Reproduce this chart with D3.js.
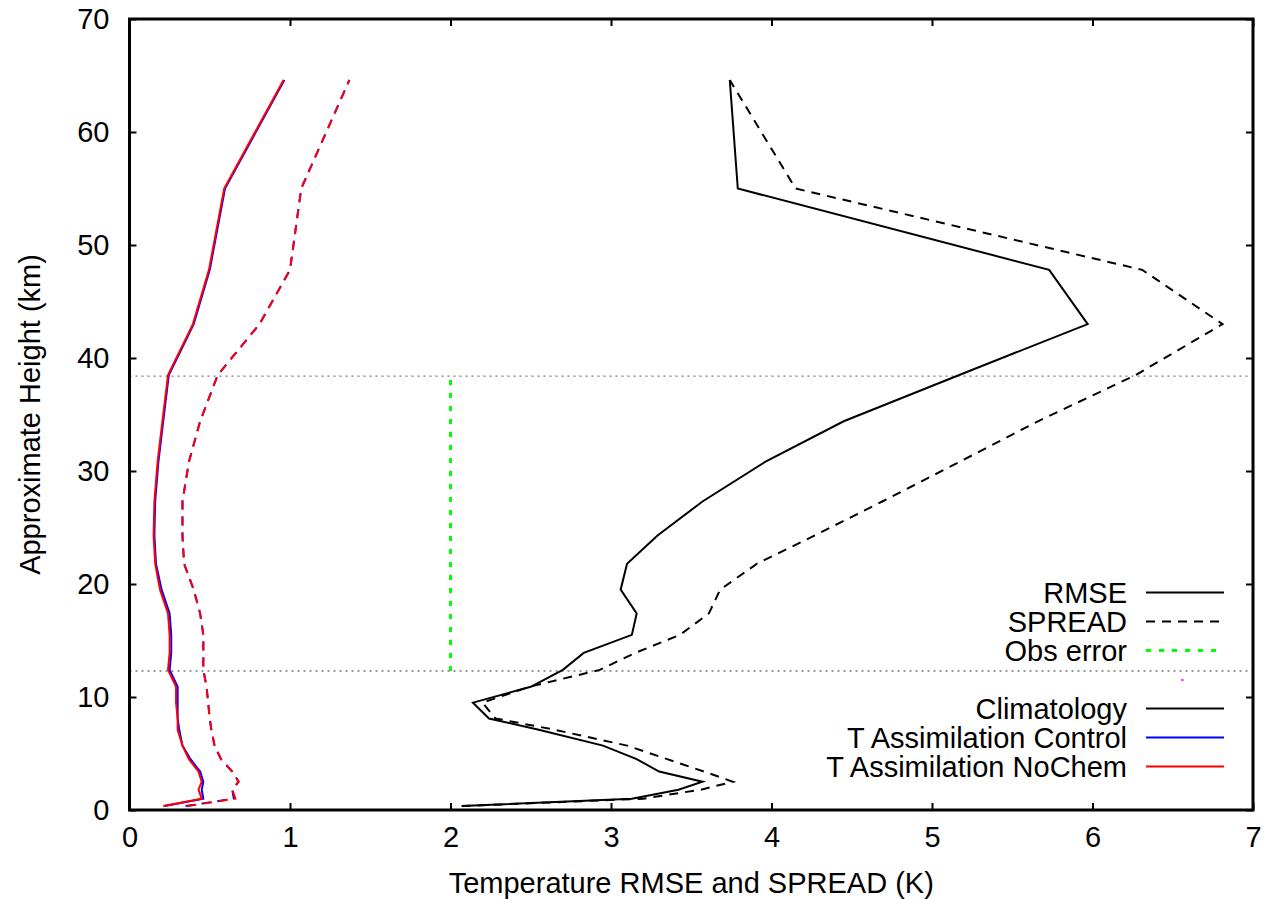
<!DOCTYPE html>
<html>
<head>
<meta charset="utf-8">
<script src="https://cdn.jsdelivr.net/npm/d3@7"></script>
<style>
  body { margin: 0; background: #fff; }
  text { font-family: "Liberation Sans", Arial, sans-serif; fill: #000; }
</style>
</head>
<body>
<div id="chart"></div>
<script>
// Heights (km) shared by all profiles
var heights = [0.35, 1.0, 1.8, 2.5, 3.4, 4.5, 5.7, 7.1, 8.1, 9.5, 10.9, 12.4, 13.9, 15.5, 17.4, 19.5, 21.8, 24.3, 27.3, 30.8, 34.4, 38.5, 43.0, 47.8, 55.0, 64.6];

// Climatology
var climRmse   = [2.07, 3.13, 3.42, 3.57, 3.30, 3.16, 2.95, 2.55, 2.24, 2.14, 2.50, 2.70, 2.83, 3.13, 3.16, 3.06, 3.10, 3.29, 3.57, 3.96, 4.45, 5.17, 5.97, 5.73, 3.79, 3.74];
var climSpread = [2.07, 3.20, 3.56, 3.76, 3.58, 3.35, 3.10, 2.65, 2.28, 2.20, 2.49, 2.93, 3.15, 3.43, 3.61, 3.68, 3.91, 4.27, 4.69, 5.17, 5.66, 6.27, 6.81, 6.31, 4.15, 3.74];

// T Assimilation Control
var ctrlRmse   = [0.22, 0.46, 0.45, 0.46, 0.44, 0.38, 0.33, 0.31, 0.30, 0.30, 0.30, 0.25, 0.26, 0.26, 0.25, 0.20, 0.165, 0.155, 0.16, 0.18, 0.21, 0.245, 0.40, 0.50, 0.595, 0.965];
var ctrlSpread = [0.35, 0.65, 0.64, 0.68, 0.64, 0.57, 0.53, 0.51, 0.50, 0.49, 0.48, 0.46, 0.46, 0.46, 0.44, 0.40, 0.34, 0.33, 0.33, 0.37, 0.44, 0.55, 0.81, 1.00, 1.07, 1.37];

// T Assimilation NoChem
var noChemRmse   = [0.21, 0.45, 0.43, 0.45, 0.43, 0.37, 0.33, 0.30, 0.30, 0.29, 0.29, 0.24, 0.25, 0.25, 0.24, 0.19, 0.16, 0.15, 0.155, 0.175, 0.205, 0.24, 0.395, 0.495, 0.59, 0.96];
var noChemSpread = [0.36, 0.66, 0.64, 0.68, 0.64, 0.57, 0.53, 0.51, 0.50, 0.49, 0.48, 0.46, 0.46, 0.46, 0.44, 0.40, 0.34, 0.33, 0.33, 0.37, 0.44, 0.55, 0.81, 1.00, 1.07, 1.37];

// Observation error and region bounds
var obsError = 2;
var regionBounds = [12.3, 38.4];
var strayPoint = [6.56, 11.5];

var xTicks = [0, 1, 2, 3, 4, 5, 6, 7];
var yTicks = [0, 10, 20, 30, 40, 50, 60, 70];

var margin = {top: 19, right: 13, bottom: 89, left: 129.5};
var width = 1266 - margin.left - margin.right;
var height = 899 - margin.top - margin.bottom;

var svg = d3.select("#chart").append("svg")
  .attr("width", 1266)
  .attr("height", 899);

var g = svg.append("g")
  .attr("transform", "translate(" + margin.left + "," + margin.top + ")");

var x = d3.scaleLinear().domain([0, 7]).range([0, width]);
var y = d3.scaleLinear().domain([0, 70]).range([height, 0]);

var fontSize = 29;

// axes, ticks inward
function styleAxis(sel) {
  sel.select(".domain").remove();
  sel.selectAll(".tick line").attr("stroke", "#000").attr("stroke-width", 2);
  sel.selectAll("text").style("font-size", fontSize + "px").attr("fill", "#000");
}

g.append("g")
  .attr("transform", "translate(0," + height + ")")
  .call(d3.axisBottom(x).tickValues(xTicks).tickSize(-7).tickPadding(16).tickFormat(d3.format("d")))
  .call(styleAxis);

g.append("g")
  .call(d3.axisTop(x).tickValues(xTicks).tickSize(-7).tickFormat(""))
  .call(styleAxis);

g.append("g")
  .call(d3.axisLeft(y).tickValues(yTicks).tickSize(-7).tickPadding(20).tickFormat(d3.format("d")))
  .call(styleAxis);

g.append("g")
  .attr("transform", "translate(" + width + ",0)")
  .call(d3.axisRight(y).tickValues(yTicks).tickSize(-7).tickFormat(""))
  .call(styleAxis);

// region bounds
g.selectAll(".bound")
  .data(regionBounds)
  .enter()
  .append("line")
  .attr("class", "bound")
  .attr("x1", x(0))
  .attr("x2", x(7))
  .attr("y1", function(d){ return y(d); })
  .attr("y2", function(d){ return y(d); })
  .attr("stroke", "#777")
  .attr("stroke-width", 1.3)
  .attr("stroke-dasharray", "2,4");

// obs error
g.append("line")
  .attr("x1", x(obsError))
  .attr("x2", x(obsError))
  .attr("y1", y(regionBounds[0]))
  .attr("y2", y(regionBounds[1]))
  .attr("stroke", "#00ff00")
  .attr("stroke-width", 3)
  .attr("stroke-dasharray", "5,8");

var line = d3.line()
  .x(function(d){ return x(d[0]); })
  .y(function(d){ return y(d[1]); });

function profile(vals) {
  return vals.map(function(v, i){ return [v, heights[i]]; });
}

var series = [
  {vals: climRmse, color: "#000", dash: null},
  {vals: climSpread, color: "#000", dash: "9,7"},
  {vals: ctrlRmse, color: "#0000ff", dash: null},
  {vals: ctrlSpread, color: "#0000ff", dash: "9,7"},
  {vals: noChemRmse, color: "#ff0000", dash: null},
  {vals: noChemSpread, color: "#ff0000", dash: "9,7"}
];

g.selectAll(".profile")
  .data(series)
  .enter()
  .append("path")
  .attr("class", "profile")
  .attr("d", function(d){ return line(profile(d.vals)); })
  .attr("fill", "none")
  .attr("stroke", function(d){ return d.color; })
  .attr("stroke-width", 2)
  .attr("stroke-dasharray", function(d){ return d.dash; });

g.append("rect")
  .attr("x", x(strayPoint[0]) - 1)
  .attr("y", y(strayPoint[1]) - 1)
  .attr("width", 2)
  .attr("height", 2)
  .attr("fill", "#ff00ff");

// frame
g.append("rect")
  .attr("width", width)
  .attr("height", height)
  .attr("fill", "none")
  .attr("stroke", "#000")
  .attr("stroke-width", 3);

// legend
var legendItems = [
  {label: "RMSE", color: "#000", dash: null, w: 2, row: 0},
  {label: "SPREAD", color: "#000", dash: "9,7", w: 2, row: 1},
  {label: "Obs error", color: "#00ff00", dash: "5,8", w: 3, row: 2},
  {label: "Climatology", color: "#000", dash: null, w: 2, row: 4},
  {label: "T Assimilation Control", color: "#0000ff", dash: null, w: 2, row: 5},
  {label: "T Assimilation NoChem", color: "#ff0000", dash: null, w: 2, row: 6}
];

var legend = svg.append("g");
var rowH = 29;
var legendTop = 592.5;

var item = legend.selectAll(".legend")
  .data(legendItems)
  .enter()
  .append("g")
  .attr("class", "legend")
  .attr("transform", function(d){
    return "translate(0," + (legendTop + d.row * rowH) + ")";
  });

item.append("text")
  .attr("x", 1127)
  .attr("dy", "0.35em")
  .attr("text-anchor", "end")
  .style("font-size", fontSize + "px")
  .text(function(d){ return d.label; });

item.append("line")
  .attr("x1", 1146)
  .attr("x2", 1224)
  .attr("stroke", function(d){ return d.color; })
  .attr("stroke-width", function(d){ return d.w; })
  .attr("stroke-dasharray", function(d){ return d.dash; });

// axis titles
svg.append("text")
  .attr("x", margin.left + width / 2)
  .attr("y", 893)
  .attr("text-anchor", "middle")
  .style("font-size", fontSize + "px")
  .text("Temperature RMSE and SPREAD (K)");

svg.append("text")
  .attr("transform", "translate(40," + (margin.top + height / 2) + ") rotate(-90)")
  .attr("text-anchor", "middle")
  .style("font-size", fontSize + "px")
  .text("Approximate Height (km)");
</script>
</body>
</html>
